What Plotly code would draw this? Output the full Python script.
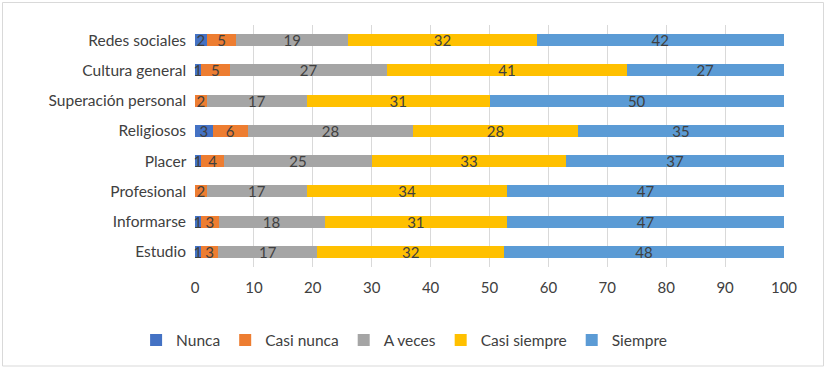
import plotly.graph_objects as go

categories = ["Estudio", "Informarse", "Profesional", "Placer", "Religiosos",
              "Superación personal", "Cultura general", "Redes sociales"]
series_names = ["Nunca", "Casi nunca", "A veces", "Casi siempre", "Siempre"]
nunca = [1, 1, 0, 1, 3, 0, 1, 2]
casi_nunca = [3, 3, 2, 4, 6, 2, 5, 5]
a_veces = [17, 18, 17, 25, 28, 17, 27, 19]
casi_siempre = [32, 31, 34, 33, 28, 31, 41, 32]
siempre = [48, 47, 47, 37, 35, 50, 27, 42]
x_ticks = [0, 10, 20, 30, 40, 50, 60, 70, 80, 90, 100]

colors = ["#4472C4", "#ED7D31", "#A5A5A5", "#FFC000", "#5B9BD5"]
values = [nunca, casi_nunca, a_veces, casi_siempre, siempre]

FONT = "Lato, Open Sans, sans-serif"
TXT = "#404040"

fig = go.Figure()
for name, vals, col in zip(series_names, values, colors):
    fig.add_trace(go.Bar(
        y=categories, x=vals, name=name, orientation="h",
        marker=dict(color=col, line=dict(width=0)),
        text=[str(v) for v in vals], textposition="inside", textangle=0,
        insidetextanchor="middle", constraintext="none",
        textfont=dict(color=TXT, size=15, family=FONT),
        cliponaxis=False,
    ))

L, T = 195, 25
fig.update_layout(
    barmode="stack", barnorm="percent", bargap=0.6,
    width=830, height=372,
    margin=dict(l=L, r=46, t=T, b=105),
    paper_bgcolor="white", plot_bgcolor="white",
    font=dict(family=FONT, size=15, color=TXT),
    showlegend=True,
    legend=dict(orientation="h", x=0.355, xanchor="center", y=-0.233, yanchor="top",
                font=dict(size=15.5, color=TXT, family=FONT),
                itemwidth=30, tracegroupgap=0, traceorder="normal"),
    xaxis=dict(range=[0, 100], tickvals=x_ticks, ticktext=[str(t) for t in x_ticks],
               showgrid=True, gridcolor="#D9D9D9", gridwidth=1,
               zeroline=False, showline=False, ticks="", ticklabelstandoff=10,
               tickfont=dict(size=15, color=TXT, family=FONT)),
    yaxis=dict(showgrid=False, zeroline=False, showline=False, ticks="",
               ticksuffix="  ", tickfont=dict(size=15.5, color=TXT, family=FONT)),
    shapes=[dict(type="rect", xref="paper", yref="paper",
                 x0=(2.5 - L) / 589, x1=(823.5 - L) / 589,
                 y0=(267 - 366) / 242, y1=(267 - 2.5) / 242,
                 line=dict(color="#D9D9D9", width=1), fillcolor="rgba(0,0,0,0)",
                 layer="below")],
)

fig.write_html("out.html", config={"displayModeBar": False},
               post_script="document.body.style.margin='0px';")
